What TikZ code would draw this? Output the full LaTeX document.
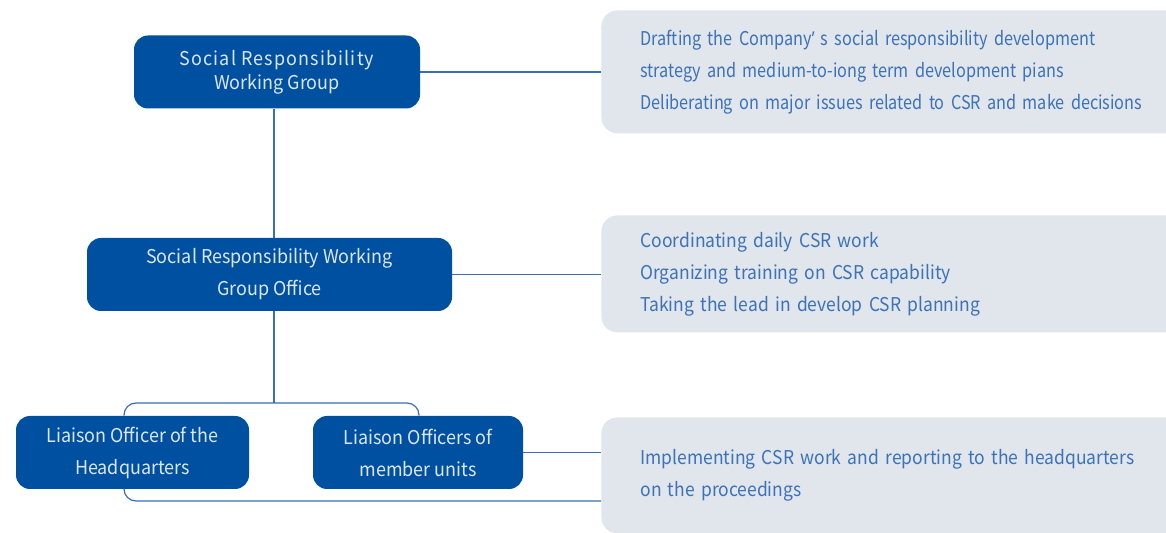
\documentclass[tikz,border=0pt]{standalone}
\usepackage{fontspec}
\setmainfont[FakeStretch=0.945]{Noto Sans CJK SC}
\newfontfamily\dutyfont[FakeStretch=0.92]{Noto Sans CJK SC}
\newfontfamily\tightfont[FakeStretch=0.855, WordSpace=0.5]{Noto Sans CJK SC}
\newfontfamily\quotefont[FakeStretch=0.855]{Noto Sans}
\newcommand\csrquote{{\quotefont ’}}
\usetikzlibrary{positioning}
\definecolor{csrblue}{HTML}{0050A2}
\definecolor{csrline}{HTML}{3A6DB5}
\definecolor{csrgray}{HTML}{E1E5EC}
\definecolor{csrtext}{HTML}{3C72B8}
\definecolor{csrwhite}{HTML}{DCE6F4}
\tikzset{
  unitbox/.style={fill=csrblue, rounded corners=7pt, text=csrwhite, align=center, inner sep=0pt,
    minimum height=36.5pt, font=\fontsize{9.5}{16}\selectfont},
  dutybox/.style={fill=csrgray, rounded corners=8pt, anchor=north west, text=csrtext, align=left,
    inner xsep=19.5pt, inner ysep=0pt, text width=300pt, font=\dutyfont\fontsize{9.5}{16}\selectfont},
  link/.style={draw=csrline, line width=0.6pt}
}

\begin{document}
\begin{tikzpicture}[x=0.5pt, y=-0.5pt]
  \useasboundingbox (0,0) rectangle (1166,533);
  \clip (0,0) rectangle (1166,533);

  % duties on the right
  \node[dutybox, minimum height=61.5pt, font=\tightfont\fontsize{9.5}{16}\selectfont] (duty1) at (601,10)
    {Drafting the Company\csrquote\ s social responsibility development\\
     strategy and medium-to-iong term development pians\\
     Deliberating on major issues related to CSR and make decisions};
  \node[dutybox, minimum height=58.5pt] (duty2) at (601,215)
    {Coordinating daily CSR work\\
     Organizing training on CSR capability\\
     Taking the lead in develop CSR planning};
  \node[dutybox, minimum height=58pt] (duty3) at (601,417)
    {Implementing CSR work and reporting to the headquarters\\
     on the proceedings};

  % organisation
  \node[unitbox, minimum width=143pt, font=\fontsize{9.5}{12}\selectfont] (group) at (277,72)
    {{\addfontfeature{LetterSpace=6}Social Responsibility}\\Working Group};
  \node[unitbox, minimum width=182.5pt] (office) at (269.5,274.5)
    {Social Responsibility Working\\Group Office};
  \node[unitbox, minimum width=116.5pt] (hq) at (132.5,452.5)
    {Liaison Officer of the\\Headquarters};
  \node[unitbox, minimum width=105pt] (units) at (418,452.5)
    {Liaison Officers of\\member units};

  \coordinate (split) at (274,403);
  \coordinate (base) at (601,501);

  % connectors
  \draw[link] (group.east) -- (group.east -| duty1.west);
  \draw[link] (office.east) -- (office.east -| duty2.west);
  \draw[link] (units.east) -- (units.east -| duty3.west);
  \draw[link] (group.south -| split) -- (office.north -| split);
  \draw[link] (office.south -| split) -- (split);
  \draw[link, rounded corners=6pt] ([xshift=-4.25pt]hq.north) |- (split) -| ([xshift=0.5pt]units.north);
  \draw[link, rounded corners=6pt] ([xshift=-4.25pt]hq.south) |- (base);
\end{tikzpicture}
\end{document}
